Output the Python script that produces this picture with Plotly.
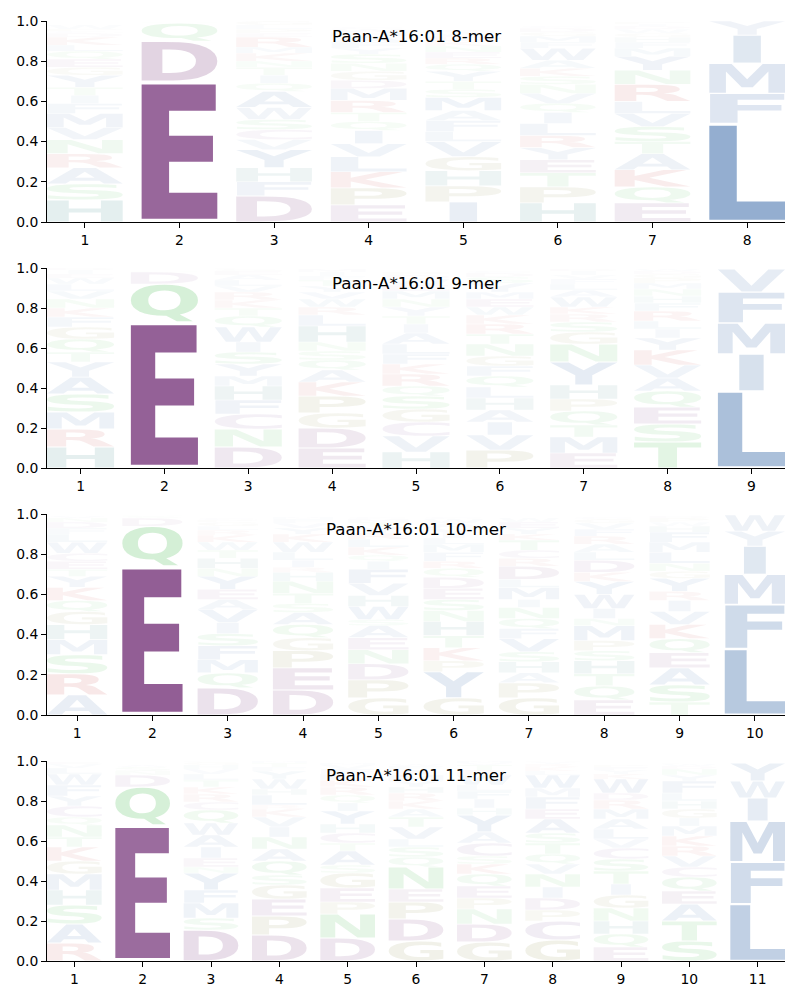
import struct, glob, os
import plotly.graph_objects as go

# ---------------- data (letters listed bottom -> top, heights = probabilities) -------------
lengths = [8, 9, 10, 11]
titles = ["Paan-A*16:01 8-mer", "Paan-A*16:01 9-mer", "Paan-A*16:01 10-mer", "Paan-A*16:01 11-mer"]

mer8_letters = ["HSARNVMFITYGEQLKDCPW", "EDQNS", "DFHYVCSWAQITNKMREPLG", "EPKLVIQTRMDGNSYFAHWC",
                "IPHGVLFAMSTYQRENKDWC", "HPTEYRLIQVNSKAWFMGDC", "EQKATSVLRNYMFHGWDIPC", "LFMIY"]
mer8_heights = [
    [.11, .08, .08, .07, .07, .06, .07, .05, .04, .04, .06, .04, .04, .04, .03, .04, .02, .01, .01, .02],
    [.70, .20, .09, .005, .005],
    [.13, .07, .07, .09, .05, .05, .05, .06, .08, .04, .04, .04, .03, .04, .03, .05, .02, .02, .02, .02],
    [.085, .085, .08, .075, .065, .065, .045, .045, .06, .06, .04, .045, .04, .045, .03, .03, .03, .02, .015, .01],
    [.10, .08, .075, .07, .075, .05, .055, .05, .065, .04, .04, .05, .035, .03, .03, .03, .025, .025, .02, .01],
    [.095, .08, .07, .065, .06, .06, .06, .055, .045, .05, .045, .04, .04, .04, .06, .03, .03, .02, .02, .01],
    [.095, .08, .085, .08, .06, .075, .065, .06, .085, .07, .07, .04, .03, .025, .02, .02, .015, .01, .01, .005],
    [.49, .15, .15, .14, .07],
]

mer9_letters = ["HRMSAYTQGFKNVLWEIDP", "EQDNS", "DNCFHMYSIWQTKRVLAEGP", "EDGPKAQSNHLRWVYTFIMC",
                "HVCGSQRKFLAITYNMEWDP", "PVIAHLQFGNTRKWEMYSDC", "EMTQPHYNGSRKWALFVIDC",
                "TSEQAVKYILRFHNMPGDWC", "LIMFV"]
mer9_heights = [
    [.105, .09, .085, .09, .085, .075, .05, .065, .06, .05, .045, .045, .04, .035, .03, .02, .02, .01, .005],
    [.73, .19, .06, .005, .005],
    [.105, .09, .075, .07, .07, .05, .06, .06, .05, .075, .055, .04, .04, .04, .03, .03, .025, .02, .01, .005],
    [.10, .10, .075, .085, .07, .06, .05, .045, .045, .08, .055, .04, .04, .035, .03, .03, .02, .02, .015, .005],
    [.08, .08, .07, .065, .065, .05, .06, .05, .05, .05, .055, .045, .04, .045, .04, .04, .03, .03, .02, .015],
    [.09, .075, .065, .06, .06, .055, .055, .05, .05, .06, .05, .05, .045, .04, .04, .035, .045, .03, .02, .01],
    [.075, .08, .06, .07, .06, .07, .115, .09, .06, .05, .04, .035, .05, .035, .03, .025, .02, .02, .01, .005],
    [.13, .09, .085, .08, .065, .065, .075, .06, .045, .04, .05, .04, .035, .035, .03, .025, .02, .015, .01, .005],
    [.385, .185, .155, .155, .115],
]

mer10_letters = ["ARSMHGQKYTECWLFDNV", "EQDSN", "DQMFSIVAEYNHTWKRLGPC", "DEPGQASTNHRILWKYVFMC",
                 "GPDNEASWHVFIQKLRYTMC", "GYPKTHNSEDQRFMLIVAWC", "GPAHSVFQNIMLDRCTKYEW",
                 "EQTHSPMNIWYKDLARFVGC", "TSAEQKVIRYGNLMFHWPDC", "LFMIYW"]
mer10_heights = [
    [.10, .105, .095, .075, .075, .065, .055, .065, .055, .035, .04, .04, .055, .04, .03, .03, .02, .01],
    [.74, .20, .04, .01, .005],
    [.135, .075, .065, .07, .06, .055, .065, .05, .05, .065, .04, .05, .04, .04, .035, .025, .02, .02, .01, .01],
    [.125, .11, .085, .065, .065, .06, .045, .05, .06, .045, .025, .035, .04, .05, .04, .03, .025, .02, .01, .005],
    [.085, .09, .08, .07, .06, .06, .03, .065, .055, .06, .07, .04, .03, .04, .04, .03, .03, .025, .015, .01],
    [.085, .13, .055, .065, .06, .07, .055, .055, .055, .055, .045, .035, .045, .04, .03, .025, .025, .025, .02, .01],
    [.085, .075, .05, .055, .05, .065, .05, .05, .055, .04, .06, .04, .065, .04, .04, .05, .03, .03, .03, .02],
    [.075, .07, .06, .065, .05, .05, .075, .035, .05, .07, .065, .045, .06, .04, .04, .04, .035, .03, .02, .01],
    [.065, .085, .085, .075, .07, .07, .065, .055, .045, .065, .035, .04, .055, .05, .05, .03, .02, .02, .01, .005],
    [.33, .22, .15, .14, .075, .08],
]

mer11_letters = ["RASHMGKTNQCYFWLVE", "EQDNSA", "DSMFYNEIAWQCRKTLVHGP", "DPEGSQANIVKRLHWYFTM",
                 "DNPEGSATCHYIQRKLFVMW", "GDPENQSLVTAKRHYMIFWC", "GDNPEQKSCAYHIFLWRTVM",
                 "GCPDINVQTSAEFMWLKRYH", "EQHNGITSCVLAMRDWKYFP", "STAEQCVRKMIGHLFYNDWP", "LFMIWY"]
mer11_heights = [
    [.09, .095, .095, .075, .08, .065, .07, .05, .06, .04, .055, .05, .055, .055, .03, .02, .01],
    [.68, .19, .06, .02, .02, .01],
    [.155, .06, .075, .065, .085, .03, .045, .055, .06, .06, .065, .04, .04, .035, .035, .03, .025, .02, .015, .005],
    [.13, .095, .085, .07, .05, .07, .06, .06, .05, .05, .04, .02, .05, .03, .05, .04, .02, .02, .01],
    [.115, .12, .06, .07, .075, .04, .07, .04, .05, .045, .065, .04, .04, .04, .035, .03, .025, .02, .01, .005],
    [.10, .11, .085, .065, .11, .05, .05, .04, .06, .05, .04, .04, .04, .03, .03, .03, .025, .02, .01, .005],
    [.095, .09, .075, .055, .06, .06, .05, .04, .065, .055, .085, .035, .045, .04, .03, .05, .025, .025, .01, .01],
    [.105, .095, .055, .06, .055, .065, .05, .05, .055, .05, .07, .05, .06, .045, .065, .02, .02, .015, .01, .005],
    [.07, .065, .065, .065, .065, .055, .065, .06, .055, .045, .05, .05, .05, .045, .035, .07, .025, .02, .015, .01],
    [.10, .10, .085, .065, .07, .05, .055, .05, .05, .05, .04, .045, .04, .04, .06, .03, .03, .015, .01, .005],
    [.285, .21, .205, .115, .085, .09],
]

panel_letters = [mer8_letters, mer9_letters, mer10_letters, mer11_letters]
panel_heights = [mer8_heights, mer9_heights, mer10_heights, mer11_heights]

# colour scheme (base colours; opacity = probability)
group_colors = {
    "DE": (108, 38, 112),
    "AVLIMFWY": (37, 90, 159),
    "NQST": (39, 176, 50),
    "KR": (190, 40, 40),
    "H": (10, 105, 105),
    "GP": (120, 120, 40),
    "C": (110, 60, 140),
}
letter_color = {}
for grp, col in group_colors.items():
    for ch in grp:
        letter_color[ch] = col

# ---------------- glyph outlines from the installed bold sans font ----------------
def find_font():
    names = ["DejaVuSans-Bold.ttf", "LiberationSans-Bold.ttf"]
    dirs = ["/usr/share/fonts", "/usr/local/share/fonts", os.path.expanduser("~/.fonts"),
            os.path.expanduser("~/.local/share/fonts")]
    for nm in names:
        for d in dirs:
            if os.path.isdir(d):
                hits = glob.glob(os.path.join(d, "**", nm), recursive=True)
                if hits:
                    return hits[0]
    return None


class TTF:
    def __init__(self, path):
        d = open(path, "rb").read()
        self.d = d
        num = struct.unpack(">H", d[4:6])[0]
        self.t = {}
        for i in range(num):
            tag, cs, off, ln = struct.unpack(">4sIII", d[12 + 16 * i:28 + 16 * i])
            self.t[tag.decode("latin1")] = (off, ln)
        ho = self.t["head"][0]
        self.locfmt = struct.unpack(">h", d[ho + 50:ho + 52])[0]
        mo = self.t["maxp"][0]
        n = struct.unpack(">H", d[mo + 4:mo + 6])[0]
        lo = self.t["loca"][0]
        if self.locfmt == 0:
            self.loca = [2 * x for x in struct.unpack(">%dH" % (n + 1), d[lo:lo + 2 * (n + 1)])]
        else:
            self.loca = list(struct.unpack(">%dI" % (n + 1), d[lo:lo + 4 * (n + 1)]))
        self.go = self.t["glyf"][0]
        self._cmap_setup()

    def H(self, p):
        return struct.unpack(">H", self.d[p:p + 2])[0]

    def _cmap_setup(self):
        d = self.d
        co = self.t["cmap"][0]
        nsub = self.H(co + 2)
        self.sub4 = None
        for i in range(nsub):
            pid, eid, off = struct.unpack(">HHI", d[co + 4 + 8 * i:co + 12 + 8 * i])
            sub = co + off
            if self.H(sub) == 4 and (pid == 3 or pid == 0):
                self.sub4 = sub
                break

    def gid(self, ch):
        c = ord(ch)
        sub = self.sub4
        seg2 = self.H(sub + 6)
        for i in range(seg2 // 2):
            end = self.H(sub + 14 + 2 * i)
            if end >= c:
                start = self.H(sub + 16 + seg2 + 2 * i)
                if start > c:
                    return 0
                delta = struct.unpack(">h", self.d[sub + 16 + 2 * seg2 + 2 * i:sub + 18 + 2 * seg2 + 2 * i])[0]
                ro_addr = sub + 16 + 3 * seg2 + 2 * i
                ro = self.H(ro_addr)
                if ro == 0:
                    return (c + delta) & 0xFFFF
                g = self.H(ro_addr + ro + 2 * (c - start))
                return (g + delta) & 0xFFFF if g else 0
        return 0

    def contours(self, g):
        d = self.d
        s = self.go + self.loca[g]
        e = self.go + self.loca[g + 1]
        if s == e:
            return []
        nc = struct.unpack(">h", d[s:s + 2])[0]
        p = s + 10
        if nc < 0:
            out = []
            while True:
                flags, gi = struct.unpack(">HH", d[p:p + 4]); p += 4
                if flags & 1:
                    dx, dy = struct.unpack(">hh", d[p:p + 4]); p += 4
                else:
                    dx, dy = struct.unpack(">bb", d[p:p + 2]); p += 2
                a, b, c2, dd = 1.0, 0.0, 0.0, 1.0
                if flags & 8:
                    a = dd = struct.unpack(">h", d[p:p + 2])[0] / 16384.0; p += 2
                elif flags & 0x40:
                    a, dd = [v / 16384.0 for v in struct.unpack(">hh", d[p:p + 4])]; p += 4
                elif flags & 0x80:
                    a, b, c2, dd = [v / 16384.0 for v in struct.unpack(">hhhh", d[p:p + 8])]; p += 8
                for cont in self.contours(gi):
                    out.append([(x * a + y * c2 + dx, x * b + y * dd + dy, on) for x, y, on in cont])
                if not flags & 0x20:
                    break
            return out
        ends = struct.unpack(">%dH" % nc, d[p:p + 2 * nc]); p += 2 * nc
        il = self.H(p); p += 2 + il
        npts = ends[-1] + 1
        flags = []
        while len(flags) < npts:
            f = d[p]; p += 1
            flags.append(f)
            if f & 8:
                r = d[p]; p += 1
                flags.extend([f] * r)
        xs, x = [], 0
        for f in flags:
            if f & 2:
                v = d[p]; p += 1
                x += v if f & 16 else -v
            elif not f & 16:
                x += struct.unpack(">h", d[p:p + 2])[0]; p += 2
            xs.append(x)
        ys, y = [], 0
        for f in flags:
            if f & 4:
                v = d[p]; p += 1
                y += v if f & 32 else -v
            elif not f & 32:
                y += struct.unpack(">h", d[p:p + 2])[0]; p += 2
            ys.append(y)
        out, st = [], 0
        for en in ends:
            out.append([(xs[k], ys[k], bool(flags[k] & 1)) for k in range(st, en + 1)])
            st = en + 1
        return out


glyphs = {}
try:
    fp = find_font()
    if fp:
        font = TTF(fp)
        for ch in "ACDEFGHIKLMNPQRSTVWY":
            cs = font.contours(font.gid(ch))
            xs = [q[0] for c in cs for q in c]
            ys = [q[1] for c in cs for q in c]
            glyphs[ch] = (cs, min(xs), max(xs), min(ys), max(ys))
except Exception:
    glyphs = {}


def contour_to_path(pts, tx):
    if len(pts) < 2:
        return ""
    start = None
    for i, q in enumerate(pts):
        if q[2]:
            start = i
            break
    if start is None:
        m = ((pts[0][0] + pts[1][0]) / 2.0, (pts[0][1] + pts[1][1]) / 2.0, True)
        pts = [m] + pts[1:] + [pts[0]]
    else:
        pts = pts[start:] + pts[:start]
    out = ["M" + tx(pts[0][0], pts[0][1])]
    ctrl = None
    for (x, y, on) in pts[1:] + [pts[0]]:
        if on:
            if ctrl is None:
                out.append("L" + tx(x, y))
            else:
                out.append("Q" + tx(*ctrl) + " " + tx(x, y))
                ctrl = None
        else:
            if ctrl is None:
                ctrl = (x, y)
            else:
                mx, my = (ctrl[0] + x) / 2.0, (ctrl[1] + y) / 2.0
                out.append("Q" + tx(*ctrl) + " " + tx(mx, my))
                ctrl = (x, y)
    out.append("Z")
    return "".join(out)


VPAD = 0.045
BOX_W = 0.8


def letter_path(ch, xc, bottom, h):
    b = bottom + h * VPAD / 2.0
    gh = h * (1 - VPAD)
    if ch not in glyphs:
        x0, x1 = xc - BOX_W / 2, xc + BOX_W / 2
        return "M%.4f,%.5fL%.4f,%.5fL%.4f,%.5fL%.4f,%.5fZ" % (x0, b, x1, b, x1, b + gh, x0, b + gh)
    cs, xmn, xmx, ymn, ymx = glyphs[ch]
    gw = xmx - xmn
    ew = glyphs["E"][2] - glyphs["E"][1] if "E" in glyphs else gw
    sx = BOX_W / max(gw, ew)
    left = xc - gw * sx / 2.0
    sy = gh / (ymx - ymn)

    def tx(gx, gy):
        return "%.4f,%.5f" % (left + (gx - xmn) * sx, b + (gy - ymn) * sy)

    return "".join(contour_to_path(c, tx) for c in cs)


# ---------------- figure ----------------
fig = go.Figure()
x_dom = [47 / 800, 785 / 800]
y_px = [(21, 222), (268, 468), (514, 715), (761, 961)]
title_px = [36, 283, 529, 775]

shapes = []
annotations = []
layout_axes = {}
tick_font = dict(family="DejaVu Sans", size=13.9, color="black")

for k, n in enumerate(lengths):
    idx = "" if k == 0 else str(k + 1)
    xr, yr = "x" + idx, "y" + idx
    top, bot = y_px[k]
    layout_axes["xaxis" + idx] = dict(
        domain=x_dom, range=[0.6, n + 0.4], anchor=yr, tickmode="array",
        tickvals=list(range(1, n + 1)), ticktext=[str(i) for i in range(1, n + 1)],
        showline=True, linecolor="black", linewidth=1, ticks="outside", ticklen=5,
        tickwidth=1, tickcolor="black", showgrid=False, zeroline=False, tickfont=tick_font,
        fixedrange=True, automargin=False)
    layout_axes["yaxis" + idx] = dict(
        domain=[1 - bot / 1000, 1 - top / 1000], range=[0, 1], anchor=xr, tickmode="array",
        tickvals=[0, 0.2, 0.4, 0.6, 0.8, 1.0], ticktext=["0.0", "0.2", "0.4", "0.6", "0.8", "1.0"],
        showline=True, linecolor="black", linewidth=1, ticks="outside", ticklen=5,
        tickwidth=1, tickcolor="black", showgrid=False, zeroline=False, tickfont=tick_font,
        fixedrange=True, automargin=False)
    fig.add_trace(go.Scatter(x=[1], y=[0], xaxis=xr, yaxis=yr, mode="markers",
                             marker=dict(opacity=0), hoverinfo="skip", showlegend=False))
    for pos in range(n):
        letters = panel_letters[k][pos]
        heights = panel_heights[k][pos]
        y0 = 0.0
        for ch, h in zip(letters, heights):
            r, g, bcol = letter_color[ch]
            a = min(1.0, max(0.0, h))
            shapes.append(dict(type="path", path=letter_path(ch, pos + 1, y0, h), xref=xr, yref=yr,
                               fillcolor="rgba(%d,%d,%d,%.3f)" % (r, g, bcol, a),
                               line=dict(width=0), layer="below"))
            y0 += h
    annotations.append(dict(text=titles[k], x=(x_dom[0] + x_dom[1]) / 2, y=1 - title_px[k] / 1000,
                            xref="paper", yref="paper", xanchor="center", yanchor="middle",
                            showarrow=False, font=dict(family="DejaVu Sans", size=16.7, color="black")))

fig.update_layout(width=800, height=1000, margin=dict(l=0, r=0, t=0, b=0, autoexpand=False),
                  paper_bgcolor="white", plot_bgcolor="white", showlegend=False,
                  shapes=shapes, annotations=annotations, **layout_axes)

fig.write_html("out.html", config={"displayModeBar": False},
               post_script="document.body.style.margin='0px';")
